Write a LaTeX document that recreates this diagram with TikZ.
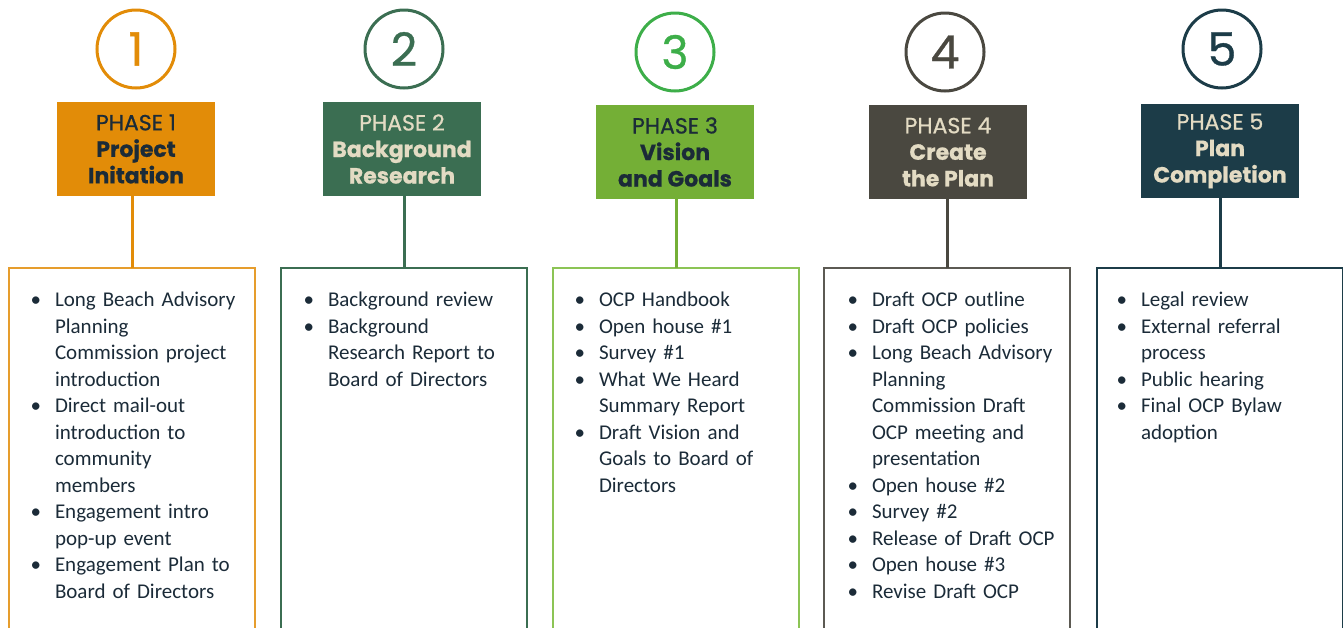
\documentclass[tikz,border=0pt]{standalone}
\usepackage{fontspec}
\setmainfont{Carlito}
\newfontfamily\headfont[FakeBold=0.7]{Poppins}
\usepackage{enumitem}
\setlist[itemize]{nosep, leftmargin=30pt, labelsep=14pt, label=\textbullet}
\definecolor{ink}{HTML}{1B2B38}
\definecolor{beige}{HTML}{E3DBC3}
\definecolor{orangeA}{HTML}{E28C08}
\definecolor{greenB}{HTML}{3B6E52}
\definecolor{limeC}{HTML}{74AF36}
\definecolor{limeCring}{HTML}{3DAE49}
\definecolor{limeCline}{HTML}{8CC455}
\definecolor{greyD}{HTML}{4A4840}
\definecolor{tealE}{HTML}{1C3C48}

\begin{document}
\begin{tikzpicture}[x=1pt, y=-1pt, node distance=100pt,
    every node/.style={inner sep=0pt, outer sep=0pt},
    num/.style={draw, circle, line width=3pt, minimum size=78pt, font=\headfont\fontsize{46}{46}\selectfont},
    phase/.style={rectangle, minimum width=158pt, minimum height=94pt, align=center, font=\headfont\fontsize{22}{26.5}\selectfont},
    listbox/.style={draw, rectangle, line width=2pt, minimum width=246pt, minimum height=420pt, anchor=north},
    items/.style={anchor=north west, text width=240pt, align=left, text=ink, font=\fontsize{21}{26.5}\selectfont},
    link/.style={line width=3pt}]
    \clip (0,0) rectangle (1343,627);

    % Circles
    \node (C1) [num, draw=orangeA, text=orangeA] at (136,49) {1};
    \node (C2) [num, draw=greenB, text=greenB] at (404,49) {2};
    \node (C3) [num, draw=limeCring, text=limeCring] at (675,52) {3};
    \node (C4) [num, draw=greyD, text=greyD] at (945,52) {4};
    \node (C5) [num, draw=tealE, text=tealE] at (1222,49) {5};

    % Phase boxes
    \node (P1) [phase, below of=C1, fill=orangeA, text=ink] {PHASE 1\\\textbf{Project}\\\textbf{Initation}};
    \node (P2) [phase, below of=C2, xshift=-2pt, fill=greenB, text=beige] {PHASE 2\\\textbf{Background}\\\textbf{Research}};
    \node (P3) [phase, below of=C3, fill=limeC, text=ink] {PHASE 3\\\textbf{Vision}\\\textbf{and Goals}};
    \node (P4) [phase, below of=C4, xshift=3pt, fill=greyD, text=beige] {PHASE 4\\\textbf{Create}\\\textbf{the Plan}};
    \node (P5) [phase, below of=C5, xshift=-2pt, yshift=-2pt, fill=tealE, text=beige] {PHASE 5\\\textbf{Plan}\\\textbf{Completion}};

    % List boxes
    \node (L1) [listbox, draw=orangeA!85] at (132,268) {};
    \node (L2) [listbox, draw=greenB] at (404,268) {};
    \node (L3) [listbox, draw=limeCline] at (676,268) {};
    \node (L4) [listbox, draw=greyD!90] at (947,268) {};
    \node (L5) [listbox, draw=tealE] at (1220,268) {};

    % Lines
    \draw[link, orangeA] (L1.north) -- (L1.north |- P1.south);
    \draw[link, greenB] (L2.north) -- (L2.north |- P2.south);
    \draw[link, limeC] (L3.north) -- (L3.north |- P3.south);
    \draw[link, greyD] (L4.north) -- (L4.north |- P4.south);
    \draw[link, tealE] (L5.north) -- (L5.north |- P5.south);

    % Lists
    \node (T1) [items] at (25,280) {\begin{itemize}
        \item Long Beach Advisory\newline Planning\newline Commission project\newline introduction
        \item Direct mail-out\newline introduction to\newline community\newline members
        \item Engagement intro\newline pop-up event
        \item Engagement Plan to\newline Board of Directors
    \end{itemize}};
    \node (T2) [items] at (298,280) {\begin{itemize}
        \item Background review
        \item Background\newline Research Report to\newline Board of Directors
    \end{itemize}};
    \node (T3) [items] at (569,280) {\begin{itemize}
        \item OCP Handbook
        \item Open house \#1
        \item Survey \#1
        \item What We Heard\newline Summary Report
        \item Draft Vision and\newline Goals to Board of\newline Directors
    \end{itemize}};
    \node (T4) [items] at (842,280) {\begin{itemize}
        \item Draft OCP outline
        \item Draft OCP policies
        \item Long Beach Advisory\newline Planning\newline Commission Draft\newline OCP meeting and\newline presentation
        \item Open house \#2
        \item Survey \#2
        \item Release of Draft OCP
        \item Open house \#3
        \item Revise Draft OCP
    \end{itemize}};
    \node (T5) [items] at (1111,280) {\begin{itemize}
        \item Legal review
        \item External referral\newline process
        \item Public hearing
        \item Final OCP Bylaw\newline adoption
    \end{itemize}};
\end{tikzpicture}
\end{document}
